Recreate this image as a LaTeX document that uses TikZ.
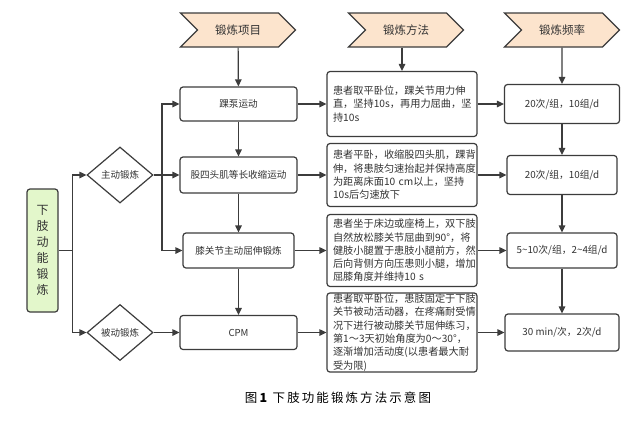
\documentclass[tikz,border=0pt]{standalone}
\usepackage{fontspec}
\setmainfont{Noto Sans CJK SC}
\usepackage{tikz}
\usetikzlibrary{positioning, shapes.geometric, shapes.symbols, arrows.meta}
\definecolor{linegray}{HTML}{3C3C3C}
\definecolor{textgray}{HTML}{333333}
\definecolor{headfill}{HTML}{FCE4CD}
\definecolor{rootfill}{HTML}{E3F7CB}

\begin{document}
\begin{tikzpicture}[x=1pt,y=-1pt,>={Triangle[length=7pt,width=6.5pt]},
	every node/.style={text=textgray},
	link/.style={draw=linegray, line width=1.2pt},
	head/.style={draw=linegray, line width=1.2pt, fill=headfill, signal, signal to=east, signal from=west, minimum width=115pt, minimum height=34pt, inner sep=0pt, font=\fontsize{11.5}{14}\selectfont},
	item/.style={draw=linegray, line width=1.2pt, rounded corners=3pt, minimum width=117pt, minimum height=34pt, inner sep=0pt, font=\fontsize{9.6}{12}\selectfont},
	method/.style={draw=linegray, line width=1.2pt, rounded corners=3pt, text width=138pt, inner xsep=6pt, inner ysep=1pt, align=left, font=\fontsize{10.2}{13.3}\selectfont},
	freq/.style={draw=linegray, line width=1.2pt, rounded corners=3pt, minimum width=110pt, minimum height=37pt, inner sep=0pt, font=\fontsize{9.8}{12}\selectfont},
	choice/.style={draw=linegray, line width=1.2pt, diamond, minimum width=66pt, minimum height=56pt, inner sep=0pt, font=\fontsize{9.5}{12}\selectfont},
	root/.style={draw=linegray, line width=1.2pt, fill=rootfill, rounded corners=3pt, minimum width=31pt, minimum height=123pt, inner sep=0pt, align=center, font=\fontsize{12}{16}\selectfont}]
	\fill[white] (0,0) rectangle (644,424);
	\useasboundingbox (0,0) rectangle (644,424);
	% column heads
	\node[head] (hitem) at (238,30) {锻炼项目};
	\node[head] (hmethod) at (406,30) {锻炼方法};
	\node[head] (hfreq) at (562,30) {锻炼频率};
	% exercise items
	\node[item] (ankle) at (238.5,104) {踝泵运动};
	\node[item, minimum height=36pt] (quad) at (238.5,175) {股四头肌等长收缩运动};
	\node[item, minimum width=111pt, minimum height=35pt] (knee) at (238.5,250.5) {膝关节主动屈伸锻炼};
	\node[item] (cpm) at (238.5,332.5) {CPM};
	% methods
	\node[method, minimum height=65pt] (ankleM) at (402,104) {患者取平卧位，踝关节用力伸\\直，坚持10s，再用力屈曲，坚\\持10s};
	\node[method, minimum height=63pt] (quadM) at (402,175) {患者平卧，收缩股四头肌，踝背\\伸，将患肢匀速抬起并保持高度\\为距离床面10 cm以上，坚持\\10s后匀速放下};
	\node[method, minimum height=72pt] (kneeM) at (402,250.5) {患者坐于床边或座椅上，双下肢\\自然放松膝关节屈曲到90°，将\\健肢小腿置于患肢小腿前方，然\\后向背侧方向压患则小腿，增加\\屈膝角度并维持10 s};
	\node[method, minimum height=79pt] (cpmM) at (402,332.5) {患者取平卧位，患肢固定于下肢\\关节被动活动器，在疼痛耐受情\\况下进行被动膝关节屈伸练习，\\第1～3天初始角度为0～30°，\\逐渐增加活动度(以患者最大耐\\受为限)};
	% frequencies
	\node[freq, minimum width=115pt, minimum height=39pt] (ankleF) at (562,104) {20次/组，10组/d};
	\node[freq, minimum height=39pt] (quadF) at (562,175) {20次/组，10组/d};
	\node[freq, minimum height=35pt] (kneeF) at (562,250.5) {5\textasciitilde10次/组，2\textasciitilde4组/d};
	\node[freq, minimum width=114pt] (cpmF) at (562,332.5) {30 min/次，2次/d};
	% left side
	\node[root] (root) at (42.5,250.5) {下\\肢\\动\\能\\锻\\炼};
	\node[choice] (active) at (120,175) {主动锻炼};
	\node[choice] (passive) at (120,332.5) {被动锻炼};
	\coordinate (split) at (162,175);
	% caption
	\node[text=black, font=\fontsize{12.5}{15}\selectfont] (cap) at (338,398) {图\,\textbf{1}\ \ 下\,肢\,功\,能\,锻\,炼\,方\,法\,示\,意\,图};
	% connectors
	\draw[link,->] (hitem) -- (ankle);
	\draw[link,->] (hmethod.south -| ankleM) -- (ankleM);
	\draw[link,->] (hfreq) -- (ankleF);
	\foreach \a/\b in {ankle/quad, quad/knee, knee/cpm, ankleF/quadF, quadF/kneeF, kneeF/cpmF}
		\draw[link,->] (\a) -- (\b);
	\foreach \a/\b in {ankle/ankleM, quad/quadM, knee/kneeM, cpm/cpmM, ankleM/ankleF, quadM/quadF, kneeM/kneeF, cpmM/cpmF}
		\draw[link,->] (\a) -- (\b);
	\draw[link] (root.east) -- ++(14,0) coordinate (trunk);
	\draw[link,->] (trunk) |- (active);
	\draw[link,->] (trunk) |- (passive);
	\draw[link,->] (active) -- (quad);
	\draw[link,->] (split) |- (ankle);
	\draw[link,->] (split) |- (knee);
	\draw[link,->] (passive) -- (cpm);
\end{tikzpicture}
\end{document}
